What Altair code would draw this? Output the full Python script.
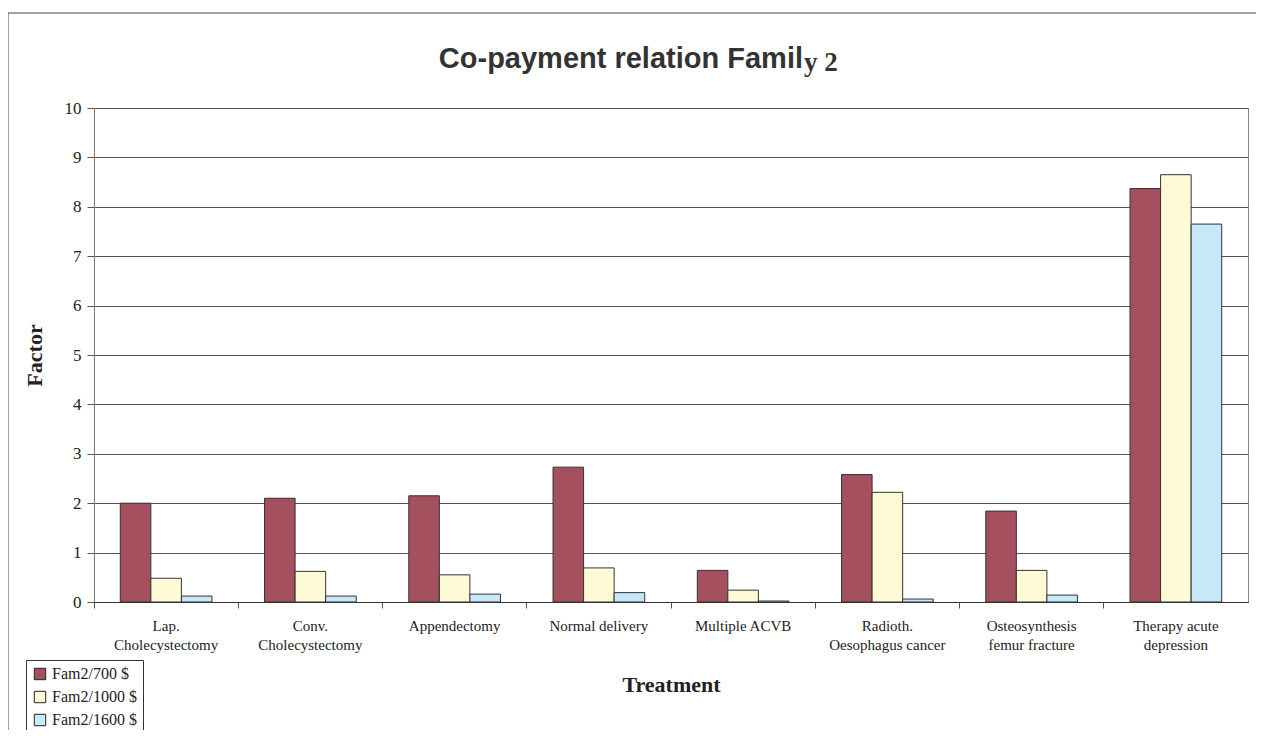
import altair as alt
import pandas as pd

categories = ["Lap.|Cholecystectomy", "Conv.|Cholecystectomy", "Appendectomy",
              "Normal delivery", "Multiple ACVB", "Radioth.|Oesophagus cancer",
              "Osteosynthesis|femur fracture", "Therapy acute|depression"]
series = ["Fam2/700 $", "Fam2/1000 $", "Fam2/1600 $"]
fam700 = [2.00, 2.10, 2.15, 2.73, 0.64, 2.58, 1.84, 8.37]
fam1000 = [0.48, 0.62, 0.55, 0.69, 0.24, 2.22, 0.64, 8.65]
fam1600 = [0.12, 0.12, 0.16, 0.19, 0.02, 0.06, 0.14, 7.65]
colors = ["#A4505F", "#FFFAD6", "#C6E8F8"]
title_part1 = "Co-payment relation Famil"
title_part2 = "y 2"

rows = []
for vals, s in zip([fam700, fam1000, fam1600], series):
    for c, v in zip(categories, vals):
        rows.append({"Treatment": c, "Series": s, "Factor": v})
df = pd.DataFrame(rows)

serif = "Liberation Serif"

bars = alt.Chart(df).mark_bar(stroke="#333333", strokeWidth=1).encode(
    x=alt.X("Treatment:N", sort=categories,
            scale=alt.Scale(paddingInner=0, paddingOuter=0),
            axis=alt.Axis(title="Treatment", labelAngle=0, bandPosition=0,
                          labelExpr="split(datum.label, '|')",
                          labelFont=serif, labelFontSize=15, labelColor="#222",
                          labelPadding=10, labelLineHeight=19,
                          titleFont=serif, titleFontSize=22, titleFontWeight="bold",
                          titleColor="#222", titlePadding=22,
                          domainColor="#333", tickColor="#555", tickSize=6,
                          grid=False)),
    xOffset=alt.XOffset("Series:N", sort=series,
                        scale=alt.Scale(paddingInner=0, paddingOuter=0.86)),
    y=alt.Y("Factor:Q", scale=alt.Scale(domain=[0, 10]),
            axis=alt.Axis(title="Factor", values=list(range(0, 11)),
                          labelFont=serif, labelFontSize=17, labelColor="#222",
                          labelPadding=6,
                          titleFont=serif, titleFontSize=22, titleFontWeight="bold",
                          titleColor="#222", titlePadding=18,
                          domainColor="#777", tickColor="#555", tickSize=7,
                          gridColor="#555", gridWidth=1)),
    color=alt.Color("Series:N", sort=series,
                    scale=alt.Scale(domain=series, range=colors),
                    legend=alt.Legend(title=None, orient="none", legendX=-68, legendY=552,
                                      symbolType="square", symbolSize=130,
                                      symbolStrokeColor="#222", symbolStrokeWidth=1,
                                      labelFont=serif, labelFontSize=16, labelColor="#222",
                                      rowPadding=7, padding=6,
                                      strokeColor="#333", fillColor="white")),
)

frame_src = pd.DataFrame({"a": [0]})
frame_top = alt.Chart(frame_src).mark_rule(color="#444", strokeWidth=1, clip=False).encode(
    x=alt.value(-86), x2=alt.value(1170), y=alt.value(-95))
frame_left = alt.Chart(frame_src).mark_rule(color="#444", strokeWidth=1, clip=False).encode(
    x=alt.value(-86), y=alt.value(-95), y2=alt.value(640))

title1 = alt.Chart(pd.DataFrame({"t": [title_part1]})).mark_text(
    font="Liberation Sans", fontSize=29, fontWeight="bold", color="#333",
    align="right", baseline="alphabetic"
).encode(text="t:N", x=alt.value(709), y=alt.value(-40))
title2 = alt.Chart(pd.DataFrame({"t": [title_part2]})).mark_text(
    font=serif, fontSize=27, fontWeight="bold", color="#333",
    align="left", baseline="alphabetic"
).encode(text="t:N", x=alt.value(710), y=alt.value(-37))

chart = alt.layer(frame_top, frame_left, bars, title1, title2).properties(
    width=1154, height=494,
    autosize=alt.AutoSizeParams(type="none"),
    padding={"left": 86, "top": 100, "right": 8, "bottom": 128},
).configure_view(stroke="#888", strokeWidth=1).configure_legend(
    labelFont=serif, labelFontSize=16)

chart.save("out.html", embed_options={"renderer": "svg", "actions": False})
